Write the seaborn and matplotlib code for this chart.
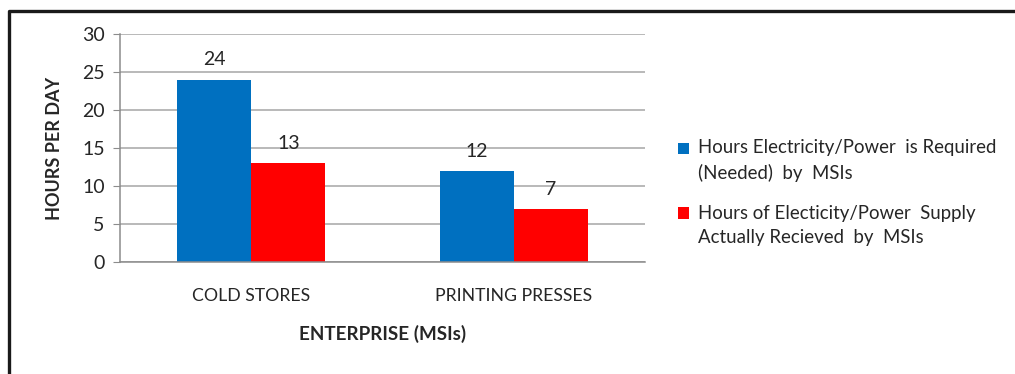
import pandas as pd
import matplotlib.pyplot as plt
import seaborn as sns
from matplotlib.lines import Line2D

# Chart values
enterprises = ["COLD STORES", "PRINTING PRESSES"]
series_names = [
    "Hours Electricity/Power  is Required\n(Needed)  by  MSIs",
    "Hours of Electicity/Power  Supply\nActually Recieved  by  MSIs",
]
required_hours = [24, 12]
received_hours = [13, 7]
bar_colors = ["#0070C0", "#FF0000"]

# Long-format table for seaborn
df = pd.DataFrame({
    "enterprise": enterprises * 2,
    "series": [series_names[0]] * 2 + [series_names[1]] * 2,
    "hours": required_hours + received_hours,
})

sns.set_style("white")
plt.rcParams["font.family"] = ["Lato", "DejaVu Sans"]

fig = plt.figure(figsize=(10.15, 3.74), dpi=100)
ax = fig.add_axes([0.1182, 0.2995, 0.5172, 0.6096])

sns.barplot(data=df, x="enterprise", y="hours", hue="series",
            palette=bar_colors, width=0.565, gap=0, saturation=1,
            errorbar=None, linewidth=0, ax=ax)

ax.set_ylim(0, 30)
ax.set_yticks(range(0, 31, 5))
ax.yaxis.grid(True, color="#A6A6A6", linewidth=1.1)
ax.set_axisbelow(True)
for side in ["top", "right"]:
    ax.spines[side].set_visible(False)
for side in ["left", "bottom"]:
    ax.spines[side].set_color("#8C8C8C")
    ax.spines[side].set_linewidth(1.1)
ax.tick_params(axis="y", length=5, color="#8C8C8C", labelsize=14, pad=6, left=True)
ax.tick_params(axis="x", length=0, labelsize=12.7, pad=19)

# value labels above bars
for cont in ax.containers:
    ax.bar_label(cont, fontsize=14, padding=8)

ax.set_xlabel("ENTERPRISE (MSIs)", fontsize=13.6, fontweight="bold", labelpad=15)
ax.set_ylabel("HOURS PER DAY", fontsize=13, fontweight="bold", labelpad=14)

leg = ax.legend(loc="center left", bbox_to_anchor=(0.651, 0.485),
                bbox_transform=fig.transFigure, frameon=False, fontsize=13.4,
                handlelength=0.6, handleheight=0.6, handletextpad=0.5,
                labelspacing=1.2)
for t in leg.get_texts():
    t.set_linespacing(1.55)
# put the square markers next to the first line of each label
for h in leg.legend_handles:
    h.set_y(h.get_y() + 9)

# outer frame (left and top edges only, like the cropped screenshot)
fig.add_artist(Line2D([9 / 1015, 9 / 1015, 1.0], [0.0, 1 - 11 / 374, 1 - 11 / 374],
                      transform=fig.transFigure, color="#1a1a1a", linewidth=2.4))

fig.savefig("out.png", dpi=100)
